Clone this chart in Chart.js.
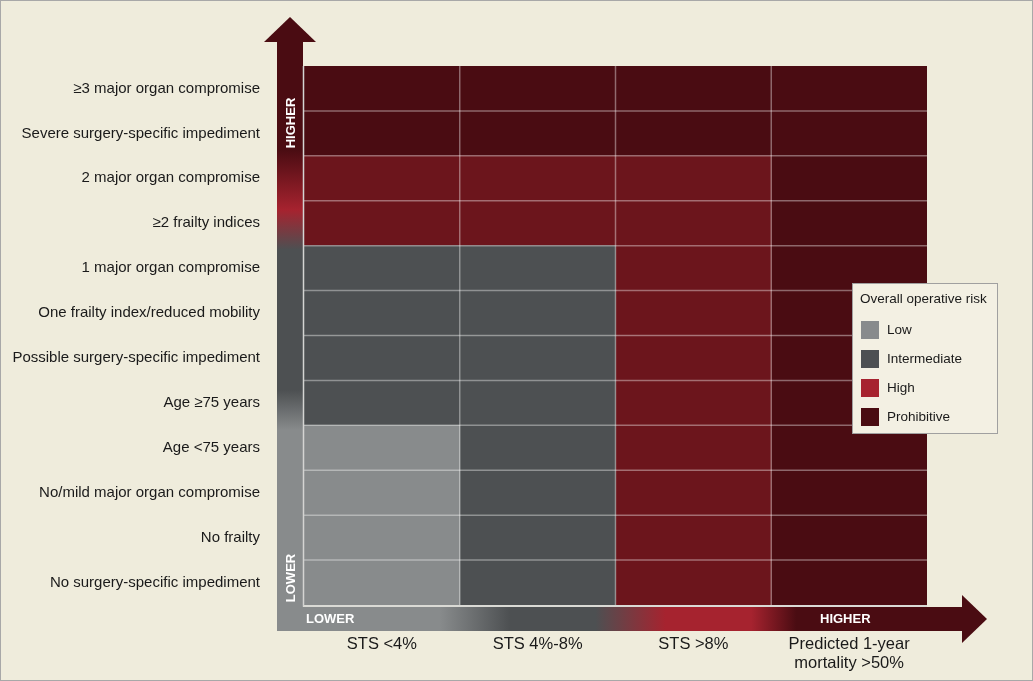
<!DOCTYPE html>
<html>
<head>
<meta charset="utf-8">
<script src="https://cdn.jsdelivr.net/npm/chart.js@4"></script>
<style>
  html, body { margin: 0; padding: 0; background: #efecdc; }
  #wrap { width: 1033px; height: 681px; position: relative; }
</style>
</head>
<body>
<div id="wrap"><canvas id="riskChart"></canvas></div>
<script>
// rows, top to bottom
var rowLabels = [
    '\u22653 major organ compromise',
    'Severe surgery-specific impediment',
    '2 major organ compromise',
    '\u22652 frailty indices',
    '1 major organ compromise',
    'One frailty index/reduced mobility',
    'Possible surgery-specific impediment',
    'Age \u226575 years',
    'Age <75 years',
    'No/mild major organ compromise',
    'No frailty',
    'No surgery-specific impediment'
];
var colLabels = ['STS <4%', 'STS 4%-8%', 'STS >8%', ['Predicted 1-year', 'mortality >50%']];
var riskLevels = ['Low', 'Intermediate', 'High', 'Prohibitive'];

// risk level index per row (0 = Low ... 3 = Prohibitive)
var stsUnder4 = [3, 3, 2, 2, 1, 1, 1, 1, 0, 0, 0, 0];
var sts4to8 = [3, 3, 2, 2, 1, 1, 1, 1, 1, 1, 1, 1];
var stsOver8 = [3, 3, 2, 2, 2, 2, 2, 2, 2, 2, 2, 2];
var mortality50 = [3, 3, 3, 3, 3, 3, 3, 3, 3, 3, 3, 3];
var columns = [stsUnder4, sts4to8, stsOver8, mortality50];

var cellColors = ['#888b8c', '#4d5052', '#6c151c', '#4a0c12'];
var keyColors = ['#888b8c', '#4d5052', '#a6232f', '#4a0c12'];
var FONT = '"Liberation Sans", Arial, sans-serif';

var datasets = columns.map(function(col, i) {
    return {
        label: i,
        data: col.map(function() { return 1; }),
        backgroundColor: col.map(function(r) { return cellColors[r]; }),
        borderWidth: 0,
        barPercentage: 1.0,
        categoryPercentage: 1.0
    };
});

var decorPlugin = {
    id: 'decor',
    beforeDraw: function(chart) {
        var c = chart.ctx;
        c.save();
        c.fillStyle = '#efecdc';
        c.fillRect(0, 0, chart.width, chart.height);
        c.strokeStyle = '#a8a8a8';
        c.lineWidth = 1;
        c.strokeRect(0.5, 0.5, chart.width - 1, chart.height - 1);
        c.restore();
    },
    afterDatasetsDraw: function(chart) {
        var c = chart.ctx, a = chart.chartArea;
        var xs = chart.scales.x, ys = chart.scales.y;
        c.save();
        // cell separators
        c.strokeStyle = 'rgba(255,255,255,0.38)';
        c.lineWidth = 1.5;
        for (var i = 1; i < columns.length; i++) {
            var px = xs.getPixelForValue(i);
            c.beginPath(); c.moveTo(px, a.top); c.lineTo(px, a.bottom); c.stroke();
        }
        for (var j = 1; j < rowLabels.length; j++) {
            var py = (ys.getPixelForValue(j - 1) + ys.getPixelForValue(j)) / 2;
            c.beginPath(); c.moveTo(a.left, py); c.lineTo(a.right, py); c.stroke();
        }

        // arrows
        var sx0 = a.left - 27, sx1 = a.left - 1;
        var hy0 = a.bottom + 2, hy1 = a.bottom + 26;
        var rowH = ys.getPixelForValue(1) - ys.getPixelForValue(0);

        // vertical gradient follows the first column's risk levels
        var vTop = a.top - 24, vSpan = hy1 - vTop;
        var vg = c.createLinearGradient(0, hy1, 0, vTop);
        function vStop(y, col) { vg.addColorStop(Math.min(1, Math.max(0, (hy1 - y) / vSpan)), col); }
        // blend offsets (below edge, above edge) for each level change going up
        var vBlend = [[5, -35], [4, -36], [54, -6]];
        vStop(hy1, keyColors[0]);
        var prev = stsUnder4[stsUnder4.length - 1], n = 0;
        for (var r = stsUnder4.length - 2; r >= 0; r--) {
            if (stsUnder4[r] !== prev) {
                var edge = ys.getPixelForValue(r) + rowH / 2;
                vStop(edge + vBlend[n][0], keyColors[prev]);
                vStop(edge + vBlend[n][1], keyColors[stsUnder4[r]]);
                prev = stsUnder4[r];
                n++;
            }
        }
        vStop(vTop, keyColors[3]);
        c.fillStyle = vg;
        c.fillRect(sx0, vTop, sx1 - sx0, hy1 - vTop);
        var cx = (sx0 + sx1) / 2;
        c.beginPath();
        c.moveTo(cx, a.top - 49);
        c.lineTo(cx + 26, vTop);
        c.lineTo(cx - 26, vTop);
        c.closePath();
        c.fillStyle = keyColors[3];
        c.fill();

        // horizontal gradient follows the bottom row's risk levels
        var hx1 = a.right + 35;
        var hg = c.createLinearGradient(sx0, 0, hx1, 0);
        var hSpan = hx1 - sx0;
        function hStop(x, col) { hg.addColorStop(Math.min(1, Math.max(0, (x - sx0) / hSpan)), col); }
        hStop(sx0, keyColors[0]);
        for (var k = 1; k < columns.length; k++) {
            var e = xs.getPixelForValue(k);
            var lo = columns[k - 1][rowLabels.length - 1], hi = columns[k][rowLabels.length - 1];
            hStop(e - 20, keyColors[lo]);
            hStop(e + (k === 3 ? 25 : 50), keyColors[hi]);
        }
        hStop(hx1, keyColors[3]);
        c.fillStyle = hg;
        c.fillRect(sx0, hy0, hx1 - sx0, hy1 - hy0);
        var cy = (hy0 + hy1) / 2;
        c.beginPath();
        c.moveTo(hx1 + 25, cy);
        c.lineTo(hx1, cy - 24);
        c.lineTo(hx1, cy + 24);
        c.closePath();
        c.fillStyle = keyColors[3];
        c.fill();

        // light edges between arrows and grid
        c.strokeStyle = '#d4d4d2';
        c.lineWidth = 1.5;
        c.beginPath();
        c.moveTo(a.left - 0.5, a.top); c.lineTo(a.left - 0.5, a.bottom + 1);
        c.lineTo(a.right, a.bottom + 1);
        c.stroke();

        // arrow words
        c.fillStyle = '#ffffff';
        c.font = 'bold 13px ' + FONT;
        c.textBaseline = 'middle';
        c.save();
        c.translate(cx + 1, a.top + 57);
        c.rotate(-Math.PI / 2);
        c.textAlign = 'center';
        c.fillText('HIGHER', 0, 0);
        c.restore();
        c.save();
        c.translate(cx + 1, a.bottom - 27);
        c.rotate(-Math.PI / 2);
        c.textAlign = 'center';
        c.fillText('LOWER', 0, 0);
        c.restore();
        c.textAlign = 'left';
        c.fillText('LOWER', a.left + 2, cy);
        c.fillText('HIGHER', a.right - 107, cy);

        // legend box
        var lx = a.right - 75, ly = a.top + 217;
        c.fillStyle = '#f3f0e3';
        c.fillRect(lx, ly, 145, 150);
        c.strokeStyle = '#a0a0a0';
        c.lineWidth = 1;
        c.strokeRect(lx + 0.5, ly + 0.5, 145, 150);
        c.fillStyle = '#1a1a1a';
        c.font = '13.5px ' + FONT;
        c.fillText('Overall operative risk', lx + 8, ly + 16);
        riskLevels.forEach(function(name, m) {
            var yy = ly + 38 + m * 29;
            c.fillStyle = keyColors[m];
            c.fillRect(lx + 9, yy, 18, 18);
            c.fillStyle = '#1a1a1a';
            c.fillText(name, lx + 35, yy + 9);
        });
        c.restore();
    }
};

var ctx = document.getElementById('riskChart').getContext('2d');
var riskChart = new Chart(ctx, {
    type: 'bar',
    data: {
        labels: rowLabels,
        datasets: datasets
    },
    options: {
        indexAxis: 'y',
        responsive: true,
        maintainAspectRatio: false,
        animation: false,
        layout: {
            padding: { top: 66, right: 106, left: 0, bottom: 0 }
        },
        plugins: {
            legend: { display: false },
            tooltip: { enabled: false },
            title: { display: false }
        },
        scales: {
            x: {
                type: 'linear',
                stacked: true,
                min: 0,
                max: 4,
                grid: { display: false, drawTicks: false },
                border: { display: false },
                afterBuildTicks: function(scale) {
                    scale.ticks = colLabels.map(function(l, i) { return { value: i + 0.5 }; });
                },
                afterFit: function(scale) { scale.height = 76; },
                ticks: {
                    color: '#1a1a1a',
                    padding: 30,
                    maxRotation: 0,
                    autoSkip: false,
                    font: { family: FONT, size: 16.5, lineHeight: 1.15 },
                    callback: function(v) { return colLabels[Math.floor(v)]; }
                }
            },
            y: {
                stacked: true,
                grid: { display: false, drawTicks: false },
                border: { display: false },
                afterFit: function(scale) { scale.width = 304; },
                ticks: {
                    color: '#1a1a1a',
                    padding: 44,
                    autoSkip: false,
                    font: { family: FONT, size: 15 }
                }
            }
        }
    },
    plugins: [decorPlugin]
});
</script>
</body>
</html>
